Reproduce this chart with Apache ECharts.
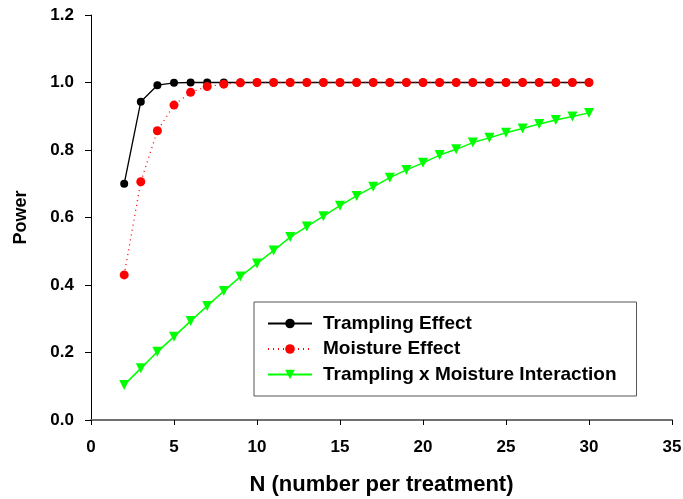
<!DOCTYPE html>
<html>
<head>
<meta charset="utf-8">
<title>Power vs N</title>
<script src="https://cdn.jsdelivr.net/npm/echarts@6/dist/echarts.min.js"></script>
<style>
  html, body { margin: 0; padding: 0; background: #fff; }
  #chart { width: 683px; height: 499px; }
</style>
</head>
<body>
<div id="chart"></div>
<script>
// N values (number per treatment)
var nValues = [2, 3, 4, 5, 6, 7, 8, 9, 10, 11, 12, 13, 14, 15, 16, 17, 18, 19, 20, 21, 22, 23, 24, 25, 26, 27, 28, 29, 30];

// power
var tramplingPower = [0.70, 0.943, 0.992, 0.999, 1.0, 1.0, 1.0, 1.0, 1.0, 1.0, 1.0, 1.0, 1.0, 1.0, 1.0, 1.0, 1.0, 1.0, 1.0, 1.0, 1.0, 1.0, 1.0, 1.0, 1.0, 1.0, 1.0, 1.0, 1.0];
var moisturePower = [0.43, 0.706, 0.857, 0.933, 0.971, 0.988, 0.995, 0.999, 1.0, 1.0, 1.0, 1.0, 1.0, 1.0, 1.0, 1.0, 1.0, 1.0, 1.0, 1.0, 1.0, 1.0, 1.0, 1.0, 1.0, 1.0, 1.0, 1.0, 1.0];
var interactionPower = [0.104, 0.153, 0.202, 0.247, 0.293, 0.338, 0.382, 0.425, 0.464, 0.502, 0.542, 0.573, 0.604, 0.635, 0.664, 0.691, 0.718, 0.741, 0.762, 0.785, 0.802, 0.822, 0.836, 0.851, 0.864, 0.877, 0.889, 0.899, 0.91];

var seriesNames = ['Trampling Effect', 'Moisture Effect', 'Trampling x Moisture Interaction'];

function pairs(ys) {
  return nValues.map(function (n, i) { return [n, ys[i]]; });
}

var chart = echarts.init(document.getElementById('chart'));
var font = 'Liberation Sans, Arial, sans-serif';

var option = {
  animation: false,
  backgroundColor: '#fff',
  grid: { left: 91, right: 11, top: 15, bottom: 79, outerBoundsMode: 'none' },
  legend: {
    orient: 'vertical',
    left: 254,
    top: 302,
    padding: [12, 20, 12, 13],
    itemWidth: 44,
    itemHeight: 12,
    itemGap: 6.5,
    borderColor: '#555',
    borderWidth: 1,
    textStyle: { fontFamily: font, fontWeight: 'bold', fontSize: 19, color: '#000', padding: [0, 0, 0, 6] },
    data: seriesNames
  },
  xAxis: {
    type: 'value',
    min: 0, max: 35, interval: 5,
    name: 'N (number per treatment)',
    nameLocation: 'middle',
    nameGap: 54,
    nameTextStyle: { fontFamily: font, fontWeight: 'bold', fontSize: 22, color: '#000' },
    axisLine: { show: true, lineStyle: { color: '#707070', width: 2 } },
    axisTick: { show: true, length: 5, lineStyle: { color: '#000' } },
    axisLabel: { fontFamily: font, fontWeight: 'bold', fontSize: 17, color: '#000', margin: 19 },
    splitLine: { show: false }
  },
  yAxis: {
    type: 'value',
    min: 0, max: 1.2, interval: 0.2,
    name: 'Power',
    nameLocation: 'middle',
    nameGap: 61,
    nameTextStyle: { fontFamily: font, fontWeight: 'bold', fontSize: 18, color: '#000' },
    axisLine: { show: true, lineStyle: { color: '#000', width: 1 } },
    axisTick: { show: true, length: 6, lineStyle: { color: '#000' } },
    axisLabel: {
      fontFamily: font, fontWeight: 'bold', fontSize: 17, color: '#000', margin: 17,
      formatter: function (v) { return v.toFixed(1); }
    },
    splitLine: { show: false }
  },
  series: [
    {
      name: seriesNames[0],
      type: 'line',
      data: pairs(tramplingPower),
      symbol: 'circle',
      symbolSize: 8,
      itemStyle: { color: '#000' },
      lineStyle: { color: '#000', width: 1.3 }
    },
    {
      name: seriesNames[1],
      type: 'line',
      data: pairs(moisturePower),
      symbol: 'circle',
      symbolSize: 9,
      itemStyle: { color: '#ff0000' },
      lineStyle: { color: '#ff0000', width: 1.3, type: [1, 4] }
    },
    {
      name: seriesNames[2],
      type: 'line',
      data: pairs(interactionPower),
      symbol: 'triangle',
      symbolRotate: 180,
      symbolSize: 10,
      itemStyle: { color: '#00ff00' },
      lineStyle: { color: '#00ff00', width: 1.5 }
    }
  ]
};

chart.setOption(option);
</script>
</body>
</html>
